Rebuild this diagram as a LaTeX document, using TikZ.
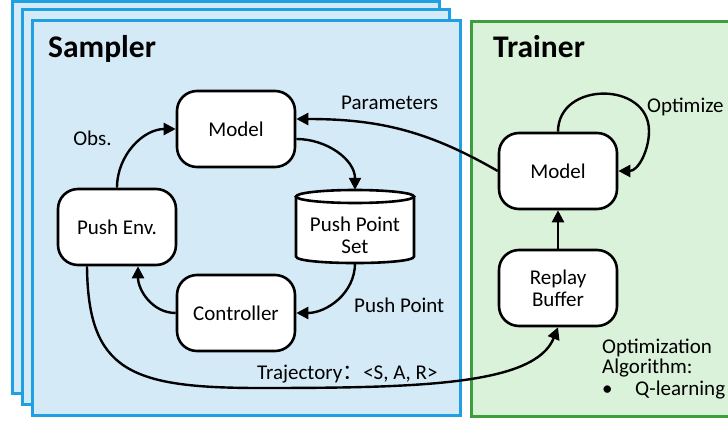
\documentclass[tikz,border=0pt]{standalone}
\usepackage{fontspec}
\setmainfont{Carlito}
\newfontfamily\cjkfont{Noto Sans CJK SC}
\usetikzlibrary{arrows.meta}
\definecolor{samplerline}{RGB}{30,160,226}
\definecolor{samplerfill}{RGB}{213,234,247}
\definecolor{trainerline}{RGB}{60,158,60}
\definecolor{trainerfill}{RGB}{218,241,218}
\begin{document}
\begin{tikzpicture}[x=1pt,y=1pt,
  samplerbox/.style={draw=samplerline,fill=samplerfill,line width=3pt},
  trainerbox/.style={draw=trainerline,fill=trainerfill,line width=3pt},
  block/.style={draw,line width=2.6pt,fill=white,rounded corners=20pt,minimum width=118pt,minimum height=76pt,align=center,inner sep=0pt,font=\fontsize{21}{22}\selectfont},
  lbl/.style={inner sep=0pt,font=\fontsize{21}{22}\selectfont},
  title/.style={inner sep=0pt,font=\fontsize{31.5}{34}\selectfont\bfseries},
  link/.style={line width=2.4pt,-{Triangle[length=12pt,width=12pt]}},
]
\useasboundingbox (0,0) rectangle (728,421);
\clip (0,0) rectangle (728,421);

% stacked sampler panels
\draw[samplerbox] (12,419.5) rectangle (439,28);
\draw[samplerbox] (22,411) rectangle (449,17);
\draw[samplerbox] (32,400) rectangle (460,6);
% trainer panel
\draw[trainerbox] (471,399) rectangle (740,5);

\node[title,anchor=base west] (samplertitle) at (48,363) {Sampler};
\node[title,anchor=base west] (trainertitle) at (493,363) {Trainer};

% sampler blocks
\node[block] (smodel) at (236,292) {Model};
\node[block] (penv) at (117,194) {Push Env.};
\node[block] (ctrl) at (236,108) {Controller};

% push point set (cylinder)
\node[inner sep=0pt,minimum width=118pt,minimum height=73pt] (pps) at (355,194.5) {};
\filldraw[fill=white,line width=2.6pt]
  (296,224.5) -- (296,164.5) .. controls (296,155.8) and (414,155.8) .. (414,164.5) -- (414,224.5);
\filldraw[fill=white,line width=2.6pt] (355,224.5) ellipse [x radius=59pt,y radius=6.5pt];
\node[lbl,align=center] (ppstext) at (355,186) {Push Point\\Set};

% trainer blocks
\node[block] (tmodel) at (558,250) {Model};
\node[block] (rbuf) at (558,133) {Replay\\Buffer};

% connectors inside the sampler
\draw[link] (penv.north) to[out=90,in=180] (smodel.west);
\node[lbl,anchor=base] (obs) at (92.5,275) {Obs.};
\draw[link] ([yshift=-10pt]smodel.east) to[out=0,in=90] (pps.north);
\draw[link] (pps.south) to[out=-90,in=0] (ctrl.east);
\node[lbl,anchor=base west] (pplabel) at (354,109) {Push Point};
\draw[link] (ctrl.west) to[out=180,in=-90] ([xshift=21pt]penv.south);

% parameters back to the sampler
\draw[link] (tmodel.west) to[out=150,in=0] ([yshift=10pt]smodel.east);
\node[lbl,anchor=base west] (params) at (341,311) {Parameters};

% trajectories to the replay buffer
\coordinate (trajlow) at (260,33);
\draw[link] ([xshift=-30pt]penv.south) .. controls (88,50) and (130,33) .. (trajlow)
  .. controls (420,33) and (535,36) .. (rbuf.south);
\node[lbl,anchor=base west] (trajlabel) at (257,42) {Trajectory{\cjkfont ：}<S, A, R>};

% trainer loop
\draw[link] (rbuf.north) -- (tmodel.south);
\coordinate (loopright) at (649,290);
\draw[link] (tmodel.north) .. controls (558,340) and (649,340) .. (loopright)
  to[out=-90,in=0] (tmodel.east);
\node[lbl,anchor=base west] (optlabel) at (647,308) {Optimize};

\node[lbl,anchor=base west] (alg1) at (602,68) {Optimization};
\node[lbl,anchor=base west] (alg2) at (602,48) {Algorithm:};
\node[lbl,anchor=base west] (alg3) at (602,26) {\makebox[33pt][l]{\textbullet}Q-learning};
\end{tikzpicture}
\end{document}
